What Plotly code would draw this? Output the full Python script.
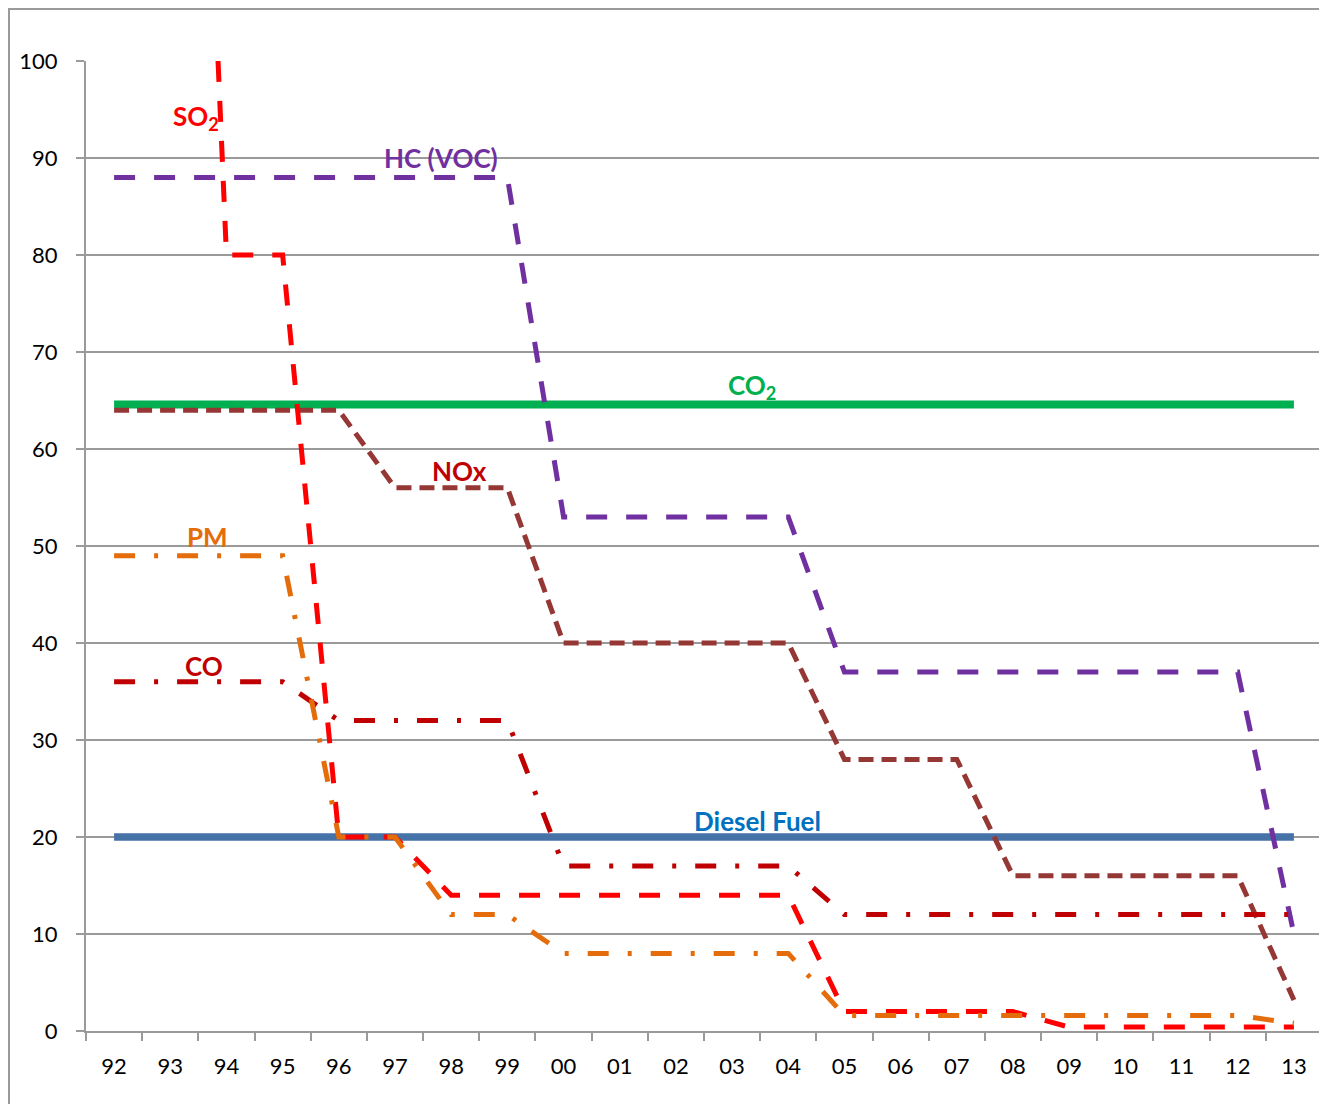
import plotly.graph_objects as go

# Category labels (years)
years = ["92", "93", "94", "95", "96", "97", "98", "99", "00", "01", "02",
         "03", "04", "05", "06", "07", "08", "09", "10", "11", "12", "13"]
year_pos = list(range(len(years)))

# Series (x given as position along the year axis, 0 = '92)
diesel_x = [0, 21]
diesel_y = [20, 20]

co2_x = [0, 21]
co2_y = [64.6, 64.6]

hc_x = [0, 7, 8, 12, 13, 20, 21]
hc_y = [88, 88, 53, 53, 37, 37, 10]

nox_x = [0, 4, 5, 7, 8, 12, 13, 15, 16, 20, 21]
nox_y = [64, 64, 56, 56, 40, 40, 28, 28, 16, 16, 3.2]

co_x = [0, 3, 4, 7, 8, 12, 13, 21]
co_y = [36, 36, 32, 32, 17, 17, 12, 12]

so2_x = [1.85, 2, 3, 4, 5, 6, 12, 13, 16, 17, 21]
so2_y = [100, 80, 80, 20, 20, 14, 14, 2, 2, 0.4, 0.4]

pm_x = [0, 3, 4, 5, 6, 7, 8, 12, 13, 20, 21]
pm_y = [49, 49, 20, 20, 12, 12, 8, 8, 1.6, 1.6, 0.8]

# Series labels: text, x, y, colour
label_text = ["SO<sub>2</sub>", "HC (VOC)", "CO<sub>2</sub>", "NOx", "PM", "CO", "Diesel Fuel"]
label_x = [1.45, 5.82, 11.36, 6.14, 1.66, 1.60, 11.46]
label_y = [94.2, 90.0, 66.4, 57.7, 50.9, 37.6, 21.6]
label_col = ["#FF0000", "#7030A0", "#00B050", "#C00000", "#E46C0A", "#C00000", "#0070C0"]

GRID = "#9a9a9a"
LONG_DASH = "21px,19px"
SHORT_DASH = "15px,8px"
DASH_DOT = "21px,19px,4px,19px"

fig = go.Figure()

def add(x, y, color, width, dash, name):
    fig.add_trace(go.Scatter(x=x, y=y, mode="lines", name=name,
                             line=dict(color=color, width=width, dash=dash),
                             hoverinfo="skip"))

add(diesel_x, diesel_y, "#4572A7", 7.5, "solid", "Diesel Fuel")
add(co2_x, co2_y, "#00B050", 8, "solid", "CO2")
add(hc_x, hc_y, "#7030A0", 5, LONG_DASH, "HC (VOC)")
add(nox_x, nox_y, "#953735", 5, SHORT_DASH, "NOx")
add(co_x, co_y, "#C00000", 5, DASH_DOT, "CO")
add(so2_x, so2_y, "#FF0000", 5, LONG_DASH, "SO2")
add(pm_x, pm_y, "#E46C0A", 5, DASH_DOT, "PM")

for t, x, y, c in zip(label_text, label_x, label_y, label_col):
    fig.add_annotation(x=x, y=y, text=t, showarrow=False,
                       xanchor="center", yanchor="middle",
                       font=dict(family="Lato", size=26, color=c, weight="bold"))

# Figure is placed 8px into the page (body margin), so work in figure pixels
FW, FH = 1319, 1096
L, R, T, B = 78, 1314, 53, 1023
W, H = R - L, B - T
fig.add_shape(type="rect", xref="paper", yref="paper",
              x0=(1 - L) / W, x1=(1315.5 - L) / W,
              y0=(B - 1110) / H, y1=(B - 1) / H,
              line=dict(color=GRID, width=2), fillcolor="rgba(0,0,0,0)", layer="above")

fig.update_layout(
    width=FW, height=FH,
    margin=dict(l=L, r=FW - R, t=T, b=FH - B),
    paper_bgcolor="white", plot_bgcolor="white",
    showlegend=False,
    font=dict(family="Lato", size=22, color="#000000"),
    xaxis=dict(
        range=[-0.5, 21.5], tickmode="array", tickvals=year_pos, ticktext=years,
        ticks="", showgrid=False, zeroline=False,
        showline=True, linecolor=GRID, linewidth=2,
        ticklabelstandoff=15,
        minor=dict(tickmode="linear", tick0=0.5, dtick=1, ticks="outside",
                   ticklen=8, tickwidth=2, tickcolor=GRID, showgrid=False),
        tickfont=dict(family="Lato", size=22),
    ),
    yaxis=dict(
        range=[0, 100], tickmode="linear", tick0=0, dtick=10,
        ticks="outside", ticklen=8, tickwidth=2, tickcolor=GRID,
        showgrid=True, gridcolor=GRID, gridwidth=2, zeroline=False,
        showline=True, linecolor=GRID, linewidth=2,
        ticklabelstandoff=14,
        tickfont=dict(family="Lato", size=22),
    ),
)

fig.write_html("out.html")
